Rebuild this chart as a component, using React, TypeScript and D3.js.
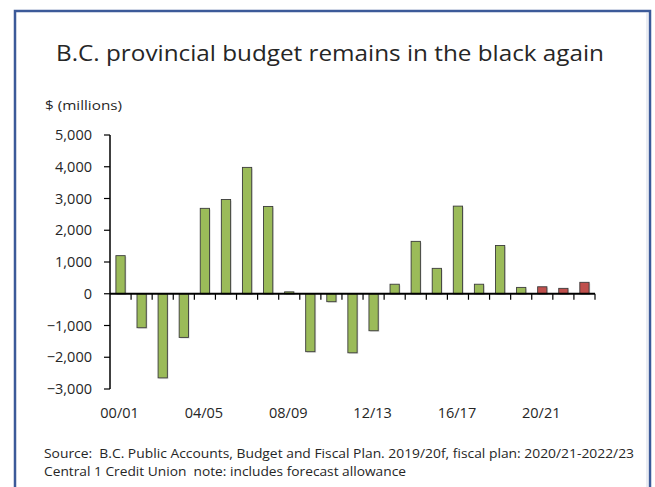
import React from "react";
import * as d3 from "d3";

const categories = [
  "00/01", "01/02", "02/03", "03/04", "04/05", "05/06", "06/07", "07/08",
  "08/09", "09/10", "10/11", "11/12", "12/13", "13/14", "14/15", "15/16",
  "16/17", "17/18", "18/19", "19/20", "20/21", "21/22", "22/23",
];
const balance = [
  1200, -1070, -2650, -1375, 2690, 2970, 3980, 2750,
  60, -1825, -250, -1860, -1165, 300, 1650, 800,
  2760, 300, 1520, 200, 220, 170, 360,
];
const kind = [
  "actual", "actual", "actual", "actual", "actual", "actual", "actual", "actual",
  "actual", "actual", "actual", "actual", "actual", "actual", "actual", "actual",
  "actual", "actual", "actual", "actual", "plan", "plan", "plan",
];
const yTicks = [-3000, -2000, -1000, 0, 1000, 2000, 3000, 4000, 5000];
const xLabels = ["00/01", "04/05", "08/09", "12/13", "16/17", "20/21"];

const W = 655;
const H = 487;
const FONT = "'Open Sans', 'Noto Sans', sans-serif";
const TEXT = "#262626";

export default function App() {
  const x = d3.scaleBand<string>().domain(categories).range([110, 595]).padding(0);
  const y = d3.scaleLinear().domain([-3000, 5000]).range([389, 135]);
  const bw = x.bandwidth() * 0.44;
  const y0 = y(0);
  const fmt = d3.format(",");

  return (
    <svg
      width={W}
      height={H}
      style={{ position: "absolute", left: 0, top: 0, background: "#fff" }}
      fontFamily={FONT}
    >
      <rect x={0} y={0} width={W} height={H} fill="#fff" />
      <rect x={15} y={11} width={635} height={500} fill="#fff" stroke="#3C5A99" strokeWidth={2.5} />
      <line x1={647} y1={13} x2={647} y2={H} stroke="#d5dae6" strokeWidth={1} />

      <text x={56} y={61} fontSize={21.5} fill={TEXT} textLength={548} lengthAdjust="spacingAndGlyphs">
        B.C. provincial budget remains in the black again
      </text>
      <text x={45} y={110} fontSize={13.5} fill={TEXT} textLength={77} lengthAdjust="spacingAndGlyphs">
        $ (millions)
      </text>

      {/* bars */}
      {balance.map((v, i) => {
        const cx = (x(categories[i]) as number) + x.bandwidth() / 2;
        const top = Math.min(y(v), y0);
        const h = Math.abs(y(v) - y0);
        const fill = kind[i] === "plan" ? "#C0504D" : "#9BBB59";
        return (
          <g key={categories[i]}>
            <rect x={cx - bw / 2 + 1.2} y={top + 1.2} width={bw} height={h} fill="#c8c8c8" opacity={0.6} />
            <rect x={cx - bw / 2} y={top} width={bw} height={h} fill={fill} stroke="#3b3b3b" strokeWidth={0.9} />
          </g>
        );
      })}

      {/* y axis */}
      <line x1={110} y1={y(5000)} x2={110} y2={y(-3000)} stroke="#000" strokeWidth={1.5} />
      {yTicks.map((t) => (
        <g key={t}>
          <line x1={104} y1={y(t)} x2={110} y2={y(t)} stroke="#000" strokeWidth={1.2} />
          <text x={92} y={y(t)} dy="0.36em" textAnchor="end" fontSize={14.5} fill={TEXT}>
            {fmt(t)}
          </text>
        </g>
      ))}

      {/* x axis */}
      <line x1={110} y1={y0} x2={595} y2={y0} stroke="#000" strokeWidth={1.8} />
      {categories.map((c, i) => {
        const bx = (x(c) as number) + x.bandwidth();
        return <line key={"t" + i} x1={bx} y1={y0} x2={bx} y2={y0 + 6} stroke="#000" strokeWidth={1.2} />;
      })}
      {xLabels.map((c) => (
        <text
          key={"l" + c}
          x={(x(c) as number) + x.bandwidth() / 2 - 1}
          y={418}
          textAnchor="middle"
          fontSize={14.5}
          fill={TEXT}
        >
          {c}
        </text>
      ))}

      <text x={44} y={458} fontSize={12.5} fill={TEXT} textLength={590} lengthAdjust="spacingAndGlyphs" style={{ whiteSpace: "pre" }}>
        {"Source:  B.C. Public Accounts, Budget and Fiscal Plan. 2019/20f, fiscal plan: 2020/21-2022/23"}
      </text>
      <text x={44} y={476} fontSize={12.5} fill={TEXT} textLength={362} lengthAdjust="spacingAndGlyphs" style={{ whiteSpace: "pre" }}>
        {"Central 1 Credit Union  note: includes forecast allowance"}
      </text>
    </svg>
  );
}
